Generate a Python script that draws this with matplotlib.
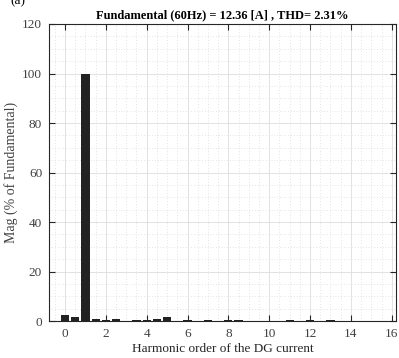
import matplotlib
matplotlib.use("Agg")
import matplotlib.pyplot as plt
from matplotlib.ticker import MultipleLocator, AutoMinorLocator

plt.rcParams['font.family'] = ['Liberation Serif', 'DejaVu Serif']

harmonic_order = [i * 0.5 for i in range(33)]
magnitude = [2.5, 1.5, 100, 0.8, 0.5, 0.8, 0.2, 0.5, 0.6, 0.7, 1.8, 0.2,
             0.3, 0.2, 0.4, 0.1, 0.4, 0.3, 0.2, 0.2, 0.2, 0.2, 0.4, 0.2,
             0.3, 0.1, 0.3, 0.2, 0.1, 0.2, 0.2, 0.2, 0.2]
title = "Fundamental (60Hz) = 12.36 [A] , THD= 2.31%"
xlabel = "Harmonic order of the DG current"
ylabel = "Mag (% of Fundamental)"

fig = plt.figure(figsize=(3.99, 3.58), dpi=100)
ax = fig.add_axes([0.123, 0.103, 0.869, 0.830])
ax.bar(harmonic_order, magnitude, width=0.4, color='#222222', zorder=3)
ax.set_xlim(-0.78, 16.2)
ax.set_ylim(0, 120)
ax.xaxis.set_major_locator(MultipleLocator(2))
ax.yaxis.set_major_locator(MultipleLocator(20))
ax.xaxis.set_minor_locator(AutoMinorLocator(4))
ax.yaxis.set_minor_locator(AutoMinorLocator(4))
ax.grid(which='major', color='#dddddd', linewidth=0.6, zorder=0)
ax.grid(which='minor', color='#cccccc', linewidth=0.5, linestyle=(0, (1, 3)), zorder=0)
ax.tick_params(which='major', direction='in', top=True, right=True, length=4,
               labelsize=9.5, colors='#262626', labelcolor='#404040', pad=5)
ax.tick_params(which='minor', length=0)
for s in ax.spines.values():
    s.set_color('#262626')
    s.set_linewidth(0.8)
ax.set_title(title, fontsize=9, fontweight='bold', pad=4)
ax.set_xlabel(xlabel, fontsize=9.5, color='#262626', labelpad=2)
ax.set_ylabel(ylabel, fontsize=10, color='#404040', labelpad=3)
fig.text(0.025, 0.997, "(a)", fontsize=9.5, ha='left', va='center')
fig.savefig("out.png", dpi=100)
